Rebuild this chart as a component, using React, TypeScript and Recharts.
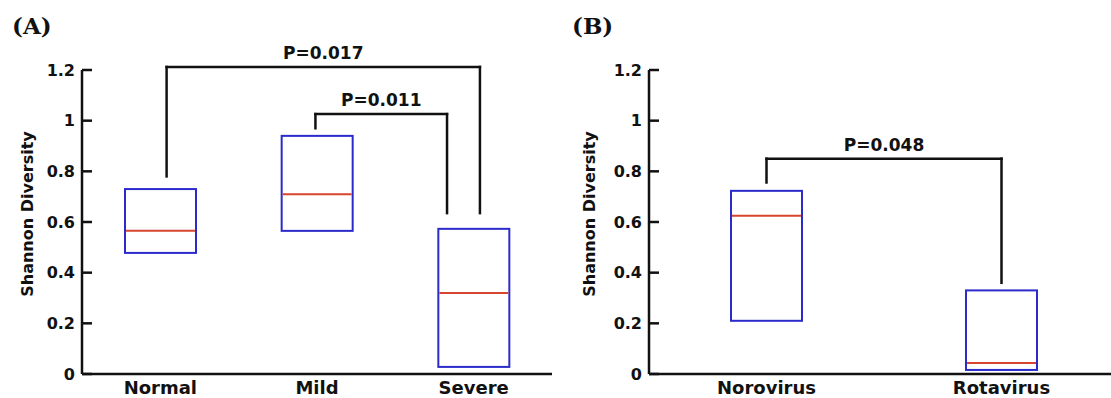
import React from 'react';
import { ComposedChart, Bar, XAxis, YAxis, ReferenceLine } from 'recharts';

// ---- data ----
const groupsA = ['Normal', 'Mild', 'Severe'];
const q1A = [0.478, 0.565, 0.028];
const medianA = [0.565, 0.71, 0.32];
const q3A = [0.73, 0.94, 0.573];

const groupsB = ['Norovirus', 'Rotavirus'];
const q1B = [0.21, 0.016];
const medianB = [0.625, 0.043];
const q3B = [0.723, 0.33];

const yTicks = [0, 0.2, 0.4, 0.6, 0.8, 1, 1.2];

// significance brackets, x in group units (0 = left edge of first group)
const bracketsA = [
  { label: 'P=0.017', x1: 0.54, x2: 2.54, y1: 0.78, y2: 0.635, top: 1.212 },
  { label: 'P=0.011', x1: 1.49, x2: 2.33, y1: 0.97, y2: 0.635, top: 1.026 },
];
const bracketsB = [
  { label: 'P=0.048', x1: 0.5, x2: 1.5, y1: 0.756, y2: 0.36, top: 0.85 },
];

// ---- styles ----
const FONT = '"DejaVu Sans", Verdana, sans-serif';
const INK = '#111111';
const BLUE = '#2b2bcc';
const RED = '#d8452f';

const buildRows = (names: string[], q1: number[], med: number[], q3: number[]) =>
  names.map((name, i) => ({ name, pos: i + 0.5, q1: q1[i], median: med[i], q3: q3[i] }));

const BoxShape = (props: any) => {
  const { x, y, width, height, payload } = props;
  const top = Math.min(y, y + height);
  const h = Math.abs(height);
  // median position inside the box (linear scale)
  const my = top + (h * (payload.q3 - payload.median)) / (payload.q3 - payload.q1);
  return (
    <g>
      <rect x={x} y={top} width={width} height={h} fill="none" stroke={BLUE} strokeWidth={2} />
      <line x1={x + 1} x2={x + width - 1} y1={my} y2={my} stroke={RED} strokeWidth={2} />
    </g>
  );
};

interface Bracket {
  label: string;
  x1: number;
  x2: number;
  y1: number;
  y2: number;
  top: number;
}

interface PanelProps {
  rows: { name: string; pos: number; q1: number; median: number; q3: number }[];
  brackets: Bracket[];
  width: number;
  axisWidth: number;
  right: number;
  labelX: number;
}

const YLabel = (props: any) => {
  const { viewBox, labelX } = props;
  const cx = viewBox.x + labelX;
  const cy = viewBox.y + viewBox.height / 2 - 8;
  return (
    <text
      transform={`translate(${cx}, ${cy}) rotate(-90)`}
      textAnchor="middle"
      dominantBaseline="central"
      fontSize={16}
      fontWeight={700}
      fill={INK}
      fontFamily={FONT}
    >
      Shannon Diversity
    </text>
  );
};

const Panel: React.FC<PanelProps> = ({ rows, brackets, width, axisWidth, right, labelX }) => {
  const lineProps = { stroke: INK, strokeWidth: 2.5, strokeLinecap: 'square' as const, ifOverflow: 'visible' as const };
  const names = new Map(rows.map((r) => [r.pos, r.name]));
  return (
    <ComposedChart width={width} height={398} data={rows} margin={{ top: 70, right, bottom: 0, left: 0 }}>
      <XAxis
        dataKey="pos"
        type="number"
        domain={[0, rows.length]}
        allowDataOverflow
        ticks={rows.map((r) => r.pos)}
        tickFormatter={(v: number) => names.get(v) ?? ''}
        height={24}
        interval={0}
        tickLine={false}
        tickSize={0}
        tickMargin={7}
        axisLine={{ stroke: INK, strokeWidth: 2.5 }}
        tick={{ fontSize: 18, fontWeight: 700, fill: INK, fontFamily: FONT }}
      />
      <YAxis
        width={axisWidth}
        domain={[0, 1.2]}
        ticks={yTicks}
        allowDataOverflow
        tickSize={-10}
        tickMargin={17}
        tickLine={{ stroke: INK, strokeWidth: 2.5 }}
        axisLine={{ stroke: INK, strokeWidth: 2.5 }}
        tick={{ fontSize: 16, fontWeight: 700, fill: INK, fontFamily: FONT }}
        label={<YLabel labelX={labelX} />}
      />
      <Bar
        dataKey={(d: any) => [d.q1, d.q3]}
        barSize={71}
        shape={(p: any) => <BoxShape {...p} />}
        isAnimationActive={false}
      />
      {brackets.flatMap((b, i) => [
        <ReferenceLine key={`l${i}`} {...lineProps} segment={[{ x: b.x1, y: b.y1 }, { x: b.x1, y: b.top }]} />,
        <ReferenceLine
          key={`t${i}`}
          {...lineProps}
          segment={[{ x: b.x1, y: b.top }, { x: b.x2, y: b.top }]}
          label={{
            value: b.label,
            position: 'top',
            offset: 8,
            fontSize: 17,
            fontWeight: 700,
            fill: INK,
            fontFamily: FONT,
            style: { fontSize: 17, fontWeight: 700, fontFamily: FONT },
          }}
        />,
        <ReferenceLine key={`r${i}`} {...lineProps} segment={[{ x: b.x2, y: b.top }, { x: b.x2, y: b.y2 }]} />,
      ])}
    </ComposedChart>
  );
};

const titleStyle: React.CSSProperties = {
  position: 'absolute',
  top: 14,
  fontFamily: '"DejaVu Serif", serif',
  fontWeight: 700,
  fontSize: 23,
  lineHeight: 1,
  color: INK,
};

export default function App() {
  const rowsA = buildRows(groupsA, q1A, medianA, q3A);
  const rowsB = buildRows(groupsB, q1B, medianB, q3B);
  return (
    <div style={{ position: 'absolute', left: 0, top: 0, width: 1111, height: 398, overflow: 'hidden', background: '#fff' }}>
      <div style={{ position: 'absolute', left: 0, top: 0 }}>
        <Panel rows={rowsA} brackets={bracketsA} width={560} axisWidth={82} right={8} labelX={27} />
      </div>
      <div style={{ position: 'absolute', left: 560, top: 0 }}>
        <Panel rows={rowsB} brackets={bracketsB} width={560} axisWidth={89} right={1} labelX={29} />
      </div>
      <span style={{ ...titleStyle, left: 12 }}>(A)</span>
      <span style={{ ...titleStyle, left: 572 }}>(B)</span>
    </div>
  );
}
